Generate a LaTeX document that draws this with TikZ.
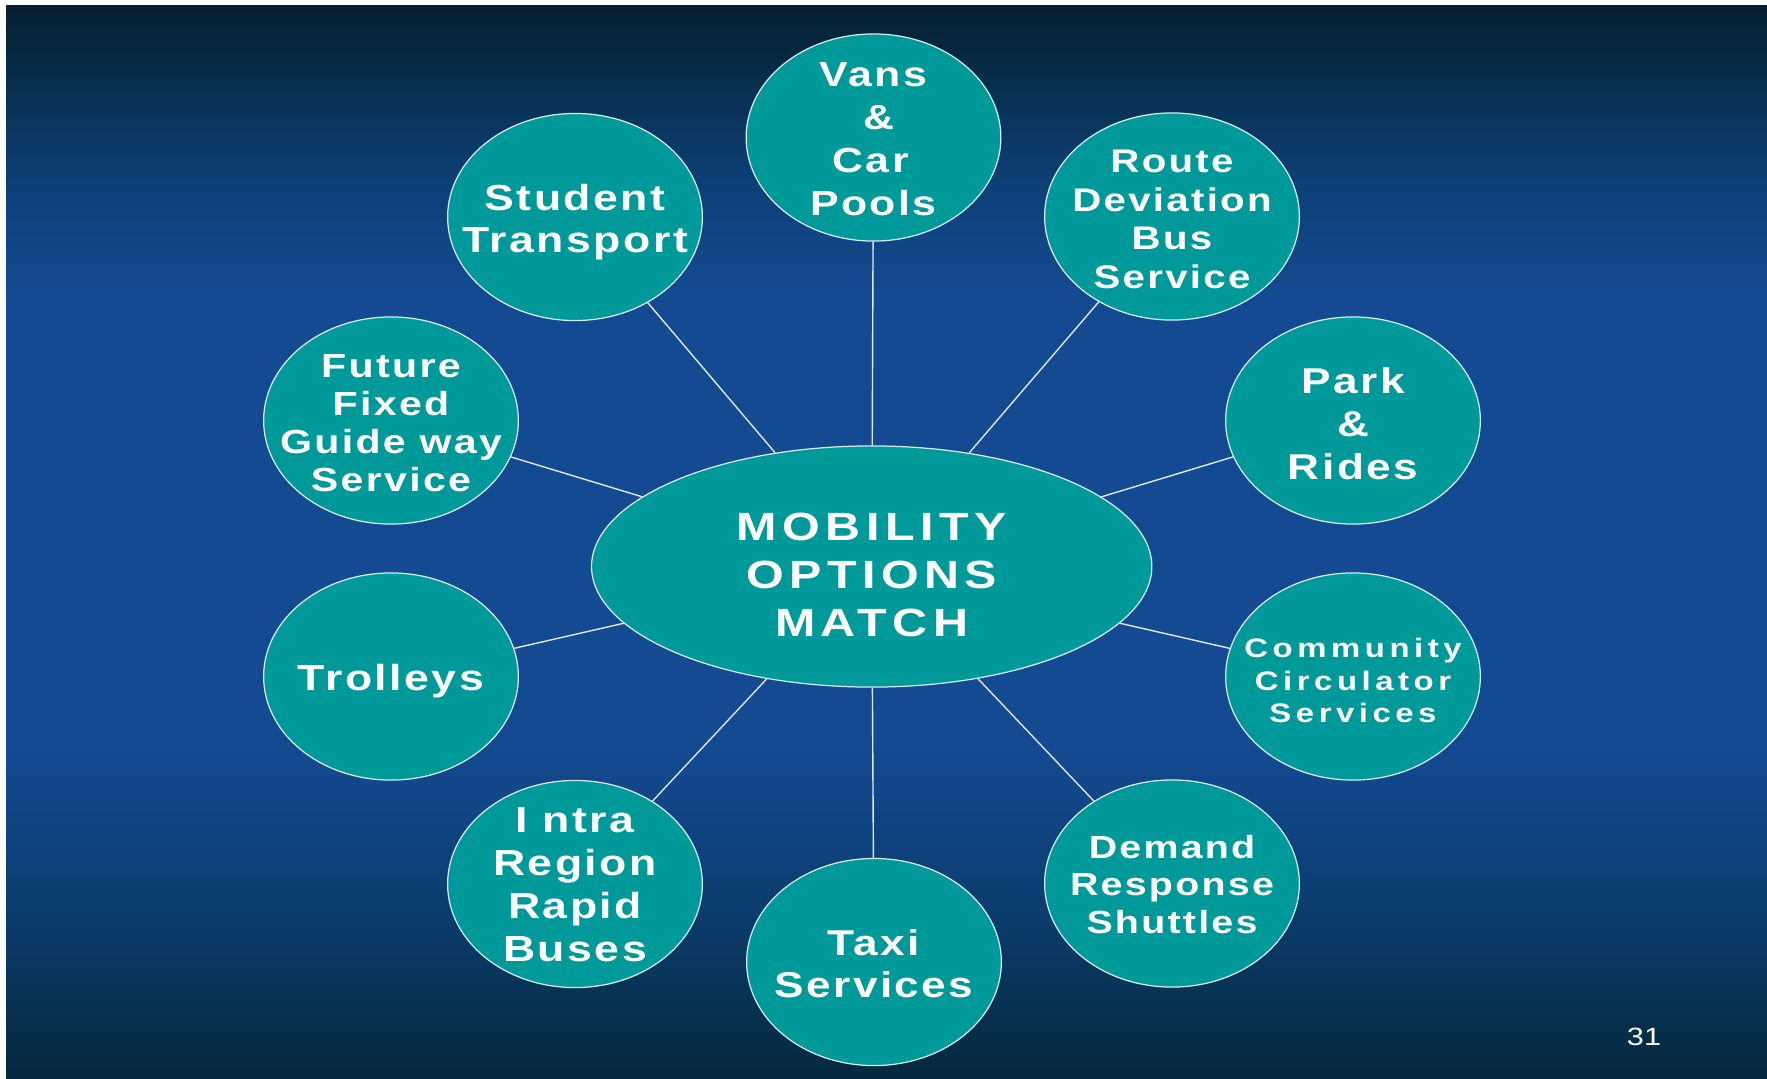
\documentclass[tikz,border=0pt]{standalone}
\usepackage{fontspec}
\setmainfont{Liberation Sans}
\newfontfamily\hubfont{Liberation Sans}[FakeStretch=1.23,LetterSpace=14]
\newfontfamily\bubfont{Liberation Sans}[FakeStretch=1.23,LetterSpace=7]
\newfontfamily\widefont{Liberation Sans}[FakeStretch=1.23,LetterSpace=17]
\newfontfamily\numfont{Liberation Sans}[FakeStretch=1.23]
\usetikzlibrary{shapes.geometric}
\definecolor{tealfill}{RGB}{0,153,153}
\definecolor{bordc}{RGB}{215,235,240}
\definecolor{connc}{RGB}{225,230,238}
\definecolor{bgA}{HTML}{071F30}
\definecolor{bgB}{HTML}{062A42}
\definecolor{bgC}{HTML}{0D3F75}
\definecolor{bgD}{HTML}{144A92}
\definecolor{bgE}{HTML}{0C3E72}
\definecolor{bgF}{HTML}{073253}
\definecolor{bgG}{HTML}{05283D}
\pgfdeclareverticalshading{slidebg}{100bp}{color(0bp)=(bgG); color(25bp)=(bgG); color(28.5bp)=(bgF); color(33.5bp)=(bgE); color(40.5bp)=(bgD); color(61.5bp)=(bgD); color(67bp)=(bgC); color(72.5bp)=(bgB); color(75bp)=(bgA); color(100bp)=(bgA)}
\tikzset{
  bub/.style={ellipse, fill=tealfill, draw=bordc, line width=0.35pt, minimum width=2.546cm, minimum height=2.07cm, inner sep=0pt},
  hub/.style={ellipse, fill=tealfill, draw=bordc, line width=0.35pt, minimum width=5.6cm, minimum height=2.41cm, inner sep=0pt},
  txt/.style={text=white, align=center, inner sep=0pt},
  conn/.style={draw=connc, line width=0.4pt}
}
\begin{document}
\begin{tikzpicture}[x=0.01cm,y=-0.01cm]
\useasboundingbox (0,0) rectangle (1767,1078);
\fill[white] (0,0) rectangle (1767,1078);
\shade[shading=slidebg] (6,5) rectangle (1767,1078);

% hub
\node[hub] (hub) at (871.7,566.5) {};
% satellites
\node[bub] (vans) at (873.5,137.5) {};
\node[bub] (route) at (1172,216.5) {};
\node[bub] (park) at (1353,420.5) {};
\node[bub] (comm) at (1353,676.5) {};
\node[bub] (demand) at (1172,883.5) {};
\node[bub] (taxi) at (874,962) {};
\node[bub] (intra) at (575,884) {};
\node[bub] (trol) at (391,676.5) {};
\node[bub] (future) at (391,420.5) {};
\node[bub] (student) at (575,217) {};

% connectors
\foreach \n in {vans,route,park,comm,demand,taxi,intra,trol,future,student}
  \draw[conn] (hub) -- (\n);

% texts
\node[txt, font={\hubfont\bfseries\fontsize{11.2pt}{13.6pt}\selectfont}, yshift=-0.085cm] (hub-t) at (hub) {MOBILITY\\OPTIONS\\MATCH};
\node[txt, font={\bubfont\bfseries\fontsize{9.9pt}{12.2pt}\selectfont}, yshift=-0.02cm] (vans-t) at (vans) {Vans\\\,\,\&\\Car\,\\Pools};
\node[txt, font={\bubfont\bfseries\fontsize{9.3pt}{10.95pt}\selectfont}, yshift=-0.03cm] (route-t) at (route) {Route\\Deviation\\Bus\\Service};
\node[txt, font={\bubfont\bfseries\fontsize{10.2pt}{12.2pt}\selectfont}, yshift=-0.03cm] (park-t) at (park) {Park\\\&\\Rides};
\node[txt, font={\widefont\bfseries\fontsize{7.6pt}{9.3pt}\selectfont}, yshift=-0.04cm] (comm-t) at (comm) {Community\\Circulator\\Services};
\node[txt, font={\bubfont\bfseries\fontsize{9.1pt}{10.7pt}\selectfont}, yshift=-0.01cm] (demand-t) at (demand) {Demand\\Response\\Shuttles};
\node[txt, font={\bubfont\bfseries\fontsize{10.2pt}{11.9pt}\selectfont}, yshift=-0.02cm] (taxi-t) at (taxi) {Taxi\\Services};
\node[txt, font={\bubfont\bfseries\fontsize{10.3pt}{12.2pt}\selectfont}, yshift=-0.01cm] (intra-t) at (intra) {I ntra\\Region\\Rapid\\Buses};
\node[txt, font={\bubfont\bfseries\fontsize{10.3pt}{11.9pt}\selectfont}, yshift=-0.05cm] (trol-t) at (trol) {Trolleys};
\node[txt, font={\bubfont\bfseries\fontsize{9.5pt}{10.8pt}\selectfont}, yshift=-0.03cm] (future-t) at (future) {Future\\Fixed\\Guide way\\Service};
\node[txt, font={\bubfont\bfseries\fontsize{10.3pt}{11.9pt}\selectfont}, yshift=-0.05cm] (student-t) at (student) {Student\\Transport};

% page number
\node[txt, font={\numfont\fontsize{7.1pt}{8.5pt}\selectfont}] (pagenum) at (1644,1037) {31};
\end{tikzpicture}
\end{document}
